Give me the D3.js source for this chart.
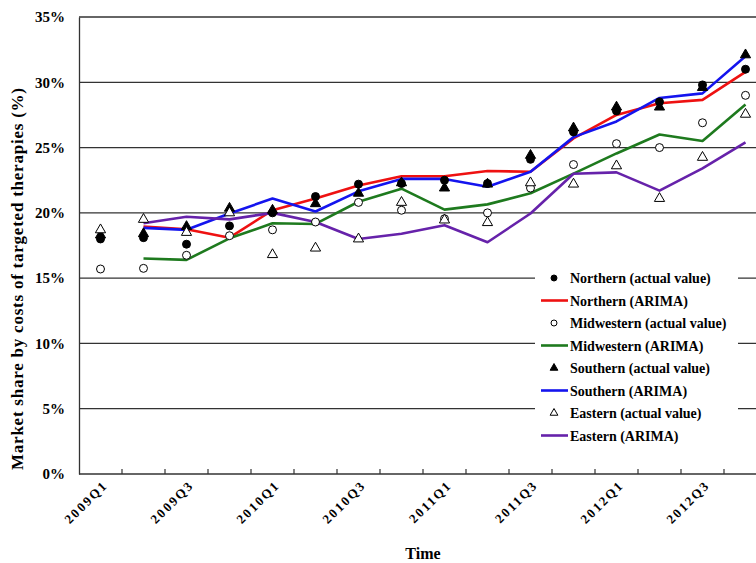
<!DOCTYPE html>
<html>
<head>
<meta charset="utf-8">
<script src="https://cdn.jsdelivr.net/npm/d3@7"></script>
<style>
  body { margin: 0; background: #fff; }
  text { font-family: "Liberation Serif", "Times New Roman", serif; }
</style>
</head>
<body>
<div id="chart"></div>
<script>
const quarters = ["2009Q1","2009Q2","2009Q3","2009Q4","2010Q1","2010Q2","2010Q3","2010Q4",
                  "2011Q1","2011Q2","2011Q3","2011Q4","2012Q1","2012Q2","2012Q3","2012Q4"]
const yTicks = [0, 5, 10, 15, 20, 25, 30, 35]

const northernActual   = [18.0, 18.1, 17.6, 19.0, 20.0, 21.25, 22.2, 22.25, 22.5, 22.25, 24.1, 26.2, 27.8, 28.5, 29.8, 31.0]
const northernArima    = [null, 18.95, 18.75, 18.1, 20.2, 21.1, 22.1, 22.8, 22.8, 23.2, 23.15, 25.7, 27.5, 28.4, 28.65, 30.8]
const midwesternActual = [15.7, 15.75, 16.75, 18.25, 18.7, 19.3, 20.8, 20.2, 19.55, 20.0, 21.9, 23.7, 25.3, 25.0, 26.9, 29.0]
const midwesternArima  = [null, 16.5, 16.4, 18.05, 19.2, 19.15, 20.85, 21.85, 20.25, 20.65, 21.5, 23.0, 24.55, 26.0, 25.5, 28.3]
const southernActual   = [18.3, 18.4, 18.95, 20.35, 20.2, 20.7, 21.5, 22.3, 21.9, 22.2, 24.4, 26.5, 28.1, 28.1, 29.6, 32.1]
const southernArima    = [null, 18.85, 18.7, 19.95, 21.1, 20.1, 21.65, 22.6, 22.6, 22.0, 23.15, 25.8, 27.0, 28.8, 29.15, 32.0]
const easternActual    = [18.7, 19.5, 18.5, 20.0, 16.8, 17.3, 18.0, 20.8, 19.45, 19.25, 22.3, 22.2, 23.6, 21.1, 24.25, 27.55]
const easternArima     = [null, 19.2, 19.7, 19.5, 20.0, 19.3, 18.0, 18.4, 19.05, 17.75, 19.95, 23.0, 23.1, 21.7, 23.4, 25.4]

// legend order, same as the original
const series = [
  {name: "Northern (actual value)",   type: "marker", values: northernActual,   shape: "circle",   fill: "#000"},
  {name: "Northern (ARIMA)",          type: "line",   values: northernArima,    color: "#ee1111"},
  {name: "Midwestern (actual value)", type: "marker", values: midwesternActual, shape: "circle",   fill: "#fff"},
  {name: "Midwestern (ARIMA)",        type: "line",   values: midwesternArima,  color: "#1e7a1e"},
  {name: "Southern (actual value)",   type: "marker", values: southernActual,   shape: "triangle", fill: "#000"},
  {name: "Southern (ARIMA)",          type: "line",   values: southernArima,    color: "#1414ee"},
  {name: "Eastern (actual value)",    type: "marker", values: easternActual,    shape: "triangle", fill: "#fff"},
  {name: "Eastern (ARIMA)",           type: "line",   values: easternArima,     color: "#6622aa"}
]

const width = 756, height = 563
const plotLeft = 79, plotRight = 767, plotTop = 17, plotBottom = 474

const svg = d3.select('#chart').append('svg')
    .attr('width', width)
    .attr('height', height)

const x = d3.scaleBand().domain(quarters).range([plotLeft, plotRight]).padding(0)
const cx = q => x(q) + x.bandwidth() / 2
const y = d3.scaleLinear().domain([0, 35]).range([plotBottom, plotTop])

// gridlines
svg.append("g").selectAll("line")
    .data(yTicks.slice(1))
    .enter().append("line")
    .attr("x1", plotLeft).attr("x2", plotRight)
    .attr("y1", d => y(d)).attr("y2", d => y(d))
    .attr("stroke", "#333").attr("stroke-width", 1.3)

// y axis
const yAxis = svg.append("g")
    .attr("transform", "translate(" + plotLeft + ",0)")
    .call(d3.axisLeft(y).tickValues(yTicks).tickSize(0).tickPadding(14).tickFormat(d => d + "%"))
yAxis.select(".domain").attr("stroke", "#333").attr("stroke-width", 1.3)
yAxis.selectAll("text")
    .attr("font-family", "Liberation Serif").attr("font-weight", "bold")
    .attr("font-size", "15px").attr("fill", "#000")

// x axis: inside ticks between categories
const xAxis = svg.append("g")
    .attr("transform", "translate(0," + plotBottom + ")")
xAxis.append("line")
    .attr("x1", plotLeft).attr("x2", plotRight).attr("y1", 0).attr("y2", 0)
    .attr("stroke", "#333").attr("stroke-width", 1.3)
xAxis.selectAll(".tk")
    .data(quarters.slice(1))
    .enter().append("line")
    .attr("class", "tk")
    .attr("x1", d => x(d)).attr("x2", d => x(d))
    .attr("y1", 0).attr("y2", -5)
    .attr("stroke", "#333").attr("stroke-width", 1.2)

// labels every other quarter, set along a 45 degree path ending at the category centre
const labelQuarters = quarters.filter((d, i) => i % 2 == 0)
const defs = svg.append("defs")
defs.selectAll("path")
    .data(labelQuarters)
    .enter().append("path")
    .attr("id", d => "lp-" + d)
    .attr("d", d => {
        const p = d3.path()
        p.moveTo(cx(d) - 60, plotBottom + 80)
        p.lineTo(cx(d) + 8, plotBottom + 12)
        return p.toString()
    })
svg.append("g").selectAll("text")
    .data(labelQuarters)
    .enter().append("text")
    .attr("font-weight", "bold")
    .attr("font-size", "13px")
    .attr("letter-spacing", "2px")
    .attr("text-anchor", "end")
    .append("textPath")
    .attr("href", d => "#lp-" + d)
    .attr("startOffset", "100%")
    .text(d => d)

// axis titles
svg.append("text")
    .attr("text-anchor", "middle")
    .attr("font-weight", "bold")
    .attr("font-size", "16px")
    .attr("x", 423).attr("y", 559)
    .text("Time")

svg.append("text")
    .attr("x", -279).attr("y", 23)
    .attr("transform", "rotate(-90)")
    .attr("text-anchor", "middle")
    .attr("font-size", "17px")
    .attr("font-weight", "bold")
    .attr("textLength", 382)
    .attr("lengthAdjust", "spacing")
    .text("Market share by costs of targeted therapies (%)")

// lines first, markers on top
const line = d3.line()
    .defined(d => d.v != null)
    .x(d => cx(d.q))
    .y(d => y(d.v))

const plot = svg.append("g")
series.filter(s => s.type == "line").forEach(s => {
    plot.append("path")
        .datum(quarters.map((q, i) => ({q: q, v: s.values[i]})))
        .attr("fill", "none")
        .attr("stroke", s.color)
        .attr("stroke-width", 2.6)
        .attr("stroke-linejoin", "round")
        .attr("d", line)
})

const symbolFor = (shape, size) => d3.symbol()
    .type(shape == "circle" ? d3.symbolCircle : d3.symbolTriangle)
    .size(size)()

series.filter(s => s.type == "marker").forEach(s => {
    plot.append("g").selectAll("path")
        .data(quarters.map((q, i) => ({q: q, v: s.values[i]})))
        .enter().append("path")
        .attr("transform", d => "translate(" + cx(d.q) + "," + y(d.v) + ")")
        .attr("d", symbolFor(s.shape, s.shape == "circle" ? 50 : 45))
        .attr("fill", s.fill)
        .attr("stroke", "#000")
        .attr("stroke-width", 1)
})

// legend
const legend = svg.append("g")
legend.append("rect")
    .attr("x", 535).attr("y", 264)
    .attr("width", 203).attr("height", 185)
    .attr("fill", "#fff")

const row = legend.selectAll(".row")
    .data(series)
    .enter().append("g")
    .attr("transform", (d, i) => "translate(0," + (278 + i * 22.5) + ")")

row.filter(d => d.type == "line").append("line")
    .attr("x1", 541).attr("x2", 568).attr("y1", 0).attr("y2", 0)
    .attr("stroke", d => d.color).attr("stroke-width", 2.6)

row.filter(d => d.type == "marker").append("path")
    .attr("transform", "translate(554,0)")
    .attr("d", d => symbolFor(d.shape, d.shape == "circle" ? 28 : 26))
    .attr("fill", d => d.fill)
    .attr("stroke", "#000")
    .attr("stroke-width", 1)

row.append("text")
    .attr("x", 570).attr("y", 5)
    .attr("font-weight", "bold")
    .attr("font-size", "14px")
    .text(d => d.name)
</script>
</body>
</html>
